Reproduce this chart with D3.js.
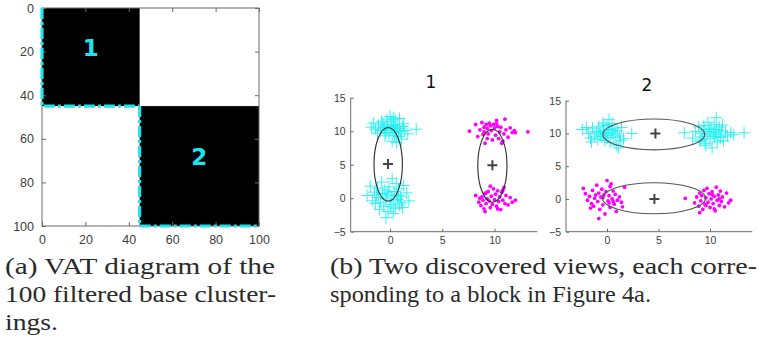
<!DOCTYPE html>
<html>
<head>
<meta charset="utf-8">
<script src="https://cdn.jsdelivr.net/npm/d3@7"></script>
<style>
body{margin:0;background:#fff}
.tick text{fill:#404040}
.cap{font-family:'Liberation Serif','Times New Roman',serif;font-size:23px;fill:#2a2a2a}
</style>
</head>
<body>
<svg id="fig" width="759" height="341"></svg>
<script>
// ---- data ----
var vatTicks = [0,20,40,60,80,100];
var vatBlocks = [{id:'1',from:0,to:45},{id:'2',from:45,to:100}];

var viewTitles = ['1','2'];
var viewXTicks = [0,5,10];
var viewYTicks = [-5,0,5,10,15];

// view 1 : cyan crosses left, magenta dots right
var v1Cyan = [[-1.8,10.6],[-1.4,10.3],[-1.1,10.9],[-0.9,10.1],[-0.7,11.2],[-0.6,10.5],[-0.4,9.8],[-0.3,11.8],[-0.2,10.9],[0.0,12.2],
  [0.1,11.4],[0.2,10.2],[0.3,11.0],[0.4,10.6],[0.5,11.7],[0.6,10.0],[0.7,10.8],[0.9,10.4],[1.0,9.9],[1.2,10.7],
  [1.4,10.1],[1.7,9.6],[2.5,10.3],[0.2,8.5],[0.6,8.3],[-0.5,9.3],[0.8,9.2],[1.1,8.8],[-0.1,9.6],[0.4,9.4],
  [-1.2,9.7],[-0.8,11.5],[0.9,11.9],[-0.3,10.3],[0.1,10.7],[0.5,9.8],[1.3,11.1],[-1.6,11.2],[0.3,12.0],[-0.5,10.6],
  [-2.2,0.4],[-1.9,1.8],[-1.7,-0.4],[-1.5,0.9],[-1.4,-0.8],[-1.2,1.5],[-1.1,0.1],[-0.9,-0.6],[-0.8,2.4],[-0.7,0.7],
  [-0.6,-1.2],[-0.5,1.2],[-0.4,-0.1],[-0.3,0.5],[-0.2,-2.0],[-0.1,1.7],[0.0,-0.9],[0.1,0.3],[0.2,2.9],[0.3,-0.4],
  [0.4,1.0],[0.5,-1.5],[0.6,0.6],[0.7,-0.2],[0.8,1.4],[0.9,-1.0],[1.0,0.2],[1.1,-0.7],[1.3,1.9],[1.6,0.8],
  [1.8,-0.4],[-0.4,-2.9],[0.3,-2.3],[-1.0,-1.7],[0.6,2.2],[-0.2,0.9],[0.1,-1.3],[-1.3,0.5],[0.8,0.4],[1.2,-1.4]];
var v1Magenta = [[7.6,10.0],[8.2,11.0],[8.4,9.2],[8.6,10.2],[8.8,11.3],[9.0,10.6],[9.1,8.2],[9.2,11.0],[9.3,10.4],[9.4,9.6],
  [9.5,11.2],[9.6,10.8],[9.7,10.1],[9.8,8.7],[9.9,11.0],[10.0,10.5],[10.1,9.4],[10.2,11.1],[10.3,10.7],[10.4,8.9],
  [10.5,9.9],[10.6,10.6],[10.8,8.5],[10.9,9.6],[11.0,11.8],[11.1,10.2],[11.3,9.1],[11.5,10.5],[11.7,9.8],[12.0,9.8],
  [13.2,9.9],[9.3,8.9],[10.7,8.2],[11.9,10.1],[9.0,9.9],[10.2,11.6],[8.9,9.5],
  [8.2,0.4],[8.5,-0.6],[8.7,-1.1],[8.8,0.2],[8.9,-0.3],[9.0,-1.6],[9.1,0.7],[9.2,-0.8],[9.3,-0.1],[9.4,1.0],
  [9.5,-0.4],[9.6,-1.4],[9.7,0.3],[9.8,-0.9],[9.9,1.4],[10.0,-0.2],[10.1,0.6],[10.2,-1.2],[10.3,1.1],[10.4,-0.5],
  [10.5,0.2],[10.6,-1.7],[10.7,0.9],[10.8,-0.3],[10.9,1.6],[11.0,-0.8],[11.1,0.4],[11.3,-1.0],[11.5,0.1],[11.7,-0.6],
  [12.0,-0.3],[9.1,-2.0],[9.6,1.8],[10.3,-1.6],[9.2,0.8],[10.8,1.2],[8.6,0.0]];
// view 2 : cyan crosses on top, magenta dots below
var v2Cyan = [[-2.4,10.6],[-2.0,10.9],[-1.8,10.0],[-1.6,9.3],[-1.4,10.8],[-1.2,9.6],[-1.0,10.3],[-0.9,9.1],[-0.8,11.0],[-0.6,10.1],
  [-0.5,9.5],[-0.4,11.6],[-0.3,10.5],[-0.2,8.9],[-0.1,10.0],[0.0,11.2],[0.1,9.7],[0.2,10.6],[0.3,8.6],[0.4,10.2],
  [0.5,11.5],[0.6,9.4],[0.7,10.8],[0.8,9.9],[0.9,8.2],[1.0,10.4],[1.1,7.8],[1.2,9.6],[1.4,10.9],[1.6,9.2],
  [2.4,10.0],[-1.5,8.7],[0.2,12.1],[-0.7,9.9],[0.5,10.5],[1.3,8.9],[-0.3,11.3],[0.0,9.3],
  [7.5,10.1],[8.3,9.3],[8.6,10.3],[8.9,11.0],[9.0,8.8],[9.2,10.0],[9.3,9.5],[9.4,11.2],[9.5,10.6],[9.6,8.2],
  [9.7,9.8],[9.8,11.7],[9.9,10.3],[10.0,9.2],[10.1,10.8],[10.2,7.8],[10.3,10.1],[10.4,11.3],[10.5,9.6],[10.6,10.6],
  [10.7,8.7],[10.8,9.9],[10.9,11.0],[11.0,9.4],[11.1,10.4],[11.3,8.9],[11.5,10.2],[11.7,9.6],[12.0,10.1],[12.3,9.8],
  [13.3,10.1],[10.6,12.4],[9.1,9.0],[10.0,10.6],[11.2,11.3],[9.5,8.5],[10.4,9.5]];
var v2Magenta = [[-2.3,1.6],[-2.1,0.8],[-1.9,-0.2],[-1.7,0.4],[-1.5,-0.7],[-1.4,1.3],[-1.3,-1.1],[-1.2,0.1],[-1.0,2.1],[-0.9,-0.4],
  [-0.8,0.9],[-0.7,-1.6],[-0.6,0.3],[-0.5,1.5],[-0.4,-0.9],[-0.3,0.6],[-0.2,-2.3],[-0.1,1.1],[0.0,2.8],[0.1,-0.3],
  [0.2,0.5],[0.3,-1.3],[0.4,2.3],[0.5,0.0],[0.6,1.2],[0.7,-0.8],[0.8,0.7],[0.9,-1.9],[1.0,-0.2],[1.2,0.3],
  [1.5,-1.2],[1.7,1.8],[-0.8,-3.0],[0.2,-0.6],[-1.1,0.6],[0.6,-0.4],[-0.4,0.2],[1.4,-0.5],[0.3,1.9],[-1.6,-1.4],
  [7.6,0.1],[8.5,-0.6],[8.7,0.3],[8.9,-1.1],[9.0,0.9],[9.1,-0.3],[9.2,0.5],[9.3,-1.6],[9.4,1.3],[9.5,-0.8],
  [9.6,0.2],[9.7,1.6],[9.8,-0.5],[9.9,0.8],[10.0,-1.3],[10.1,0.0],[10.2,1.1],[10.3,-0.7],[10.4,0.4],[10.5,-1.8],
  [10.6,1.8],[10.7,-0.2],[10.8,0.6],[10.9,-1.0],[11.0,1.2],[11.1,-0.4],[11.2,0.3],[11.4,-1.2],[11.6,0.9],[11.8,-0.6],
  [12.0,-0.2],[10.4,-1.5],[9.0,-2.1],[10.9,0.0],[9.6,-1.0],[10.2,0.7]];

var v1Ellipses = [[-0.18,5.05,1.36,5.5],[9.8,4.85,1.4,5.45]];   // cx, cy, rx, ry
var v2Ellipses = [[4.54,9.85,4.95,2.35],[4.56,0.1,5.0,2.37]];
var v1Centers = [[-0.2,5.1],[9.8,4.9]];
var v2Centers = [[4.7,10.0],[4.6,0.0]];

var captionA = ['(a) VAT diagram of the','100 filtered base cluster-','ings.'];
var captionB = ['(b) Two discovered views, each corre-','sponding to a block in Figure 4a.'];

var svg = d3.select('#fig');
var axisGray = '#6b6b6b';

function styleAxis(g, fs){
  g.select('.domain').remove();
  g.selectAll('.tick line').attr('stroke', axisGray);
  g.selectAll('.tick text').attr('font-family','Liberation Sans, Arial, sans-serif').attr('font-size', fs);
}

// ---- (a) VAT diagram ----
function drawVat(){
  var x = d3.scaleLinear().domain([0,100]).range([42,259]);
  var y = d3.scaleLinear().domain([0,100]).range([8,226]);
  var g = svg.append('g');

  g.selectAll('rect.blk').data(vatBlocks).enter().append('rect')
    .attr('x', d => x(d.from)).attr('y', d => y(d.from))
    .attr('width', d => x(d.to)-x(d.from)).attr('height', d => y(d.to)-y(d.from))
    .attr('fill','#000');

  g.append('rect').attr('x',x(0)).attr('y',y(0)).attr('width',x(100)-x(0)).attr('height',y(100)-y(0))
    .attr('fill','none').attr('stroke',axisGray).attr('stroke-width',1);

  var ax = g.append('g').attr('transform',`translate(0,${y(100)})`)
    .call(d3.axisBottom(x).tickValues(vatTicks).tickSize(-4).tickPadding(9));
  styleAxis(ax, 12.5);
  var ay = g.append('g').attr('transform',`translate(${x(0)},0)`)
    .call(d3.axisLeft(y).tickValues(vatTicks).tickSize(-4).tickPadding(8));
  styleAxis(ay, 12.5);
  var at = g.append('g').attr('transform',`translate(0,${y(0)})`)
    .call(d3.axisTop(x).tickValues(vatTicks).tickSize(-4).tickFormat(''));
  styleAxis(at, 12);
  var ar = g.append('g').attr('transform',`translate(${x(100)},0)`)
    .call(d3.axisRight(y).tickValues(vatTicks).tickSize(-4).tickFormat(''));
  styleAxis(ar, 12);

  // cyan dash-dot outline of each block (left and bottom edges)
  var line = d3.line().x(d => x(d[0])).y(d => y(d[1]));
  vatBlocks.forEach(function(b){
    g.append('path')
      .attr('d', line([[b.from,b.from],[b.from,b.to],[b.to,b.to]]))
      .attr('fill','none').attr('stroke','#1fe4ee').attr('stroke-width',3.2)
      .attr('stroke-dasharray','11,3,3,3');
  });

  g.selectAll('text.blk').data(vatBlocks).enter().append('text')
    .attr('x', d => x((d.from+d.to)/2)).attr('y', d => y((d.from+d.to)/2)-1.5)
    .attr('text-anchor','middle').attr('font-family','DejaVu Sans, sans-serif')
    .attr('font-weight','bold').attr('font-size',23).attr('fill','#1fe4ee')
    .text(d => d.id);
}

// ---- (b) views ----
function drawView(title, x, y, titleX, titleY, cyan, magenta, ells, centers, ellColor){
  var g = svg.append('g');
  var ax = g.append('g').attr('transform',`translate(0,${y.range()[0]})`)
    .call(d3.axisBottom(x).tickValues(viewXTicks).tickSize(-3).tickPadding(5));
  styleAxis(ax, 10.5);
  var ay = g.append('g').attr('transform',`translate(${x.range()[0]},0)`)
    .call(d3.axisLeft(y).tickValues(viewYTicks).tickSize(-3).tickPadding(5));
  styleAxis(ay, 10.5);
  g.append('path')
    .attr('d', `M${x.range()[0]},${y.range()[1]}V${y.range()[0]}H${x.range()[1]}`)
    .attr('fill','none').attr('stroke',axisGray);

  g.selectAll('path.cy').data(cyan).enter().append('path')
    .attr('d', d => `M${x(d[0])-6},${y(d[1])}h12M${x(d[0])},${y(d[1])-6}v12`)
    .attr('stroke','#1ff0f4').attr('stroke-width',0.9).attr('fill','none');
  g.selectAll('circle.mg').data(magenta).enter().append('circle')
    .attr('cx', d => x(d[0])).attr('cy', d => y(d[1])).attr('r',1.9)
    .attr('fill','#ff00ff');

  g.selectAll('ellipse').data(ells).enter().append('ellipse')
    .attr('cx', d => x(d[0])).attr('cy', d => y(d[1]))
    .attr('rx', d => x(d[0]+d[2])-x(d[0])).attr('ry', d => y(d[1])-y(d[1]+d[3]))
    .attr('fill','none').attr('stroke',ellColor).attr('stroke-width',1.1);

  g.selectAll('path.ctr').data(centers).enter().append('path')
    .attr('d', d => `M${x(d[0])-5},${y(d[1])}h10M${x(d[0])},${y(d[1])-5}v10`)
    .attr('stroke','#444').attr('stroke-width',2);

  g.append('text').attr('x', titleX).attr('y', titleY).attr('text-anchor','middle')
    .attr('font-family','DejaVu Sans, sans-serif').attr('font-size',17).attr('fill','#111')
    .text(title);
}

drawVat();
drawView(viewTitles[0],
  d3.scaleLinear().domain([-3.77,14.1]).range([350.7,537.3]),
  d3.scaleLinear().domain([-5,15]).range([231.7,97.7]), 431, 88, v1Cyan, v1Magenta, v1Ellipses, v1Centers, '#2a2a2a');
drawView(viewTitles[1],
  d3.scaleLinear().domain([-3.98,14.1]).range([566,752.3]),
  d3.scaleLinear().domain([-5,15]).range([231.7,100.7]), 647, 91, v2Cyan, v2Magenta, v2Ellipses, v2Centers, '#555');

// ---- captions ----
var capA = [[5,274,270],[5,302,271],[5,330,53]];
var capB = [[330,274,427],[330,302,321]];
captionA.forEach(function(t,i){
  svg.append('text').attr('class','cap').attr('x',capA[i][0]).attr('y',capA[i][1])
    .attr('textLength',capA[i][2]).attr('lengthAdjust','spacingAndGlyphs').text(t);
});
captionB.forEach(function(t,i){
  svg.append('text').attr('class','cap').attr('x',capB[i][0]).attr('y',capB[i][1])
    .attr('textLength',capB[i][2]).attr('lengthAdjust','spacingAndGlyphs').text(t);
});
</script>
</body>
</html>
